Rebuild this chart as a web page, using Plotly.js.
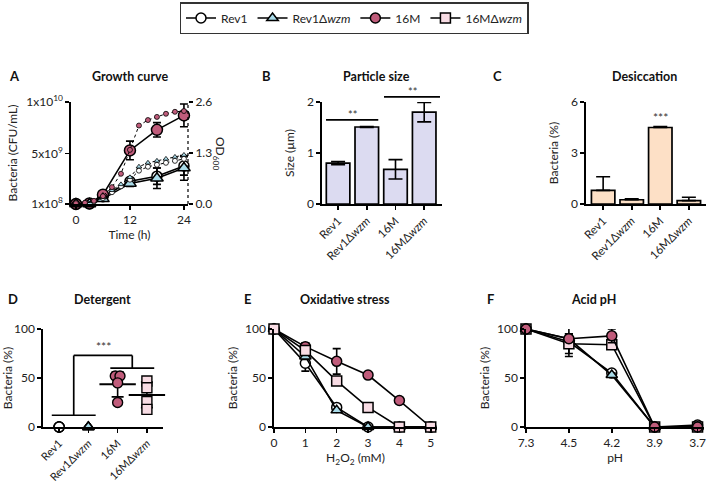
<!DOCTYPE html>
<html><head><meta charset="utf-8">
<script src="https://cdn.plot.ly/plotly-3.0.1.min.js"></script>
<style>html,body{margin:0;padding:0;background:#fff}#chart{width:708px;height:483px}</style>
</head><body><div id="chart"></div>
<script>
// ---------- DATA ----------
const strains = ['Rev1', 'Rev1Δ<i>wzm</i>', '16M', '16MΔ<i>wzm</i>'];

// A: growth curve (CFU, solid) and OD600 (dotted)
const growthTime = [0, 3, 6, 12, 18, 24];
const cfuRev1 = [1.0e8, 1.3e8, 0.8e9, 2.3e9, 2.8e9, 3.8e9];
const cfuRev1Err = [0, 0, 0.1e9, 0.3e9, 0.8e9, 0.9e9];
const cfuRev1D = [1.0e8, 1.0e8, 0.6e9, 2.1e9, 2.6e9, 3.6e9];
const cfuRev1DErr = [0, 0, 0.1e9, 0.3e9, 1.0e9, 1.2e9];
const cfu16M = [1.0e8, 1.5e8, 1.0e9, 5.3e9, 7.3e9, 8.7e9];
const cfu16MErr = [0, 0, 0.1e9, 0.9e9, 0.7e9, 1.1e9];
const odTime = [0, 2, 4, 6, 8, 10, 12, 14, 16, 18, 20, 22, 24];
const odRev1 = [0.02, 0.03, 0.06, 0.15, 0.30, 0.45, 0.62, 0.85, 0.95, 1.00, 1.05, 1.10, 1.15];
const odRev1D = [0.02, 0.03, 0.07, 0.17, 0.35, 0.50, 0.68, 0.95, 1.05, 1.10, 1.15, 1.20, 1.25];
const od16M = [0.02, 0.03, 0.08, 0.20, 0.43, 0.77, 1.38, 2.00, 2.14, 2.22, 2.30, 2.35, 2.37];
const cfuTicks = [1e8, 5e9, 1e10];
const cfuTickText = ['1x10<sup>8</sup>', '5x10<sup>9</sup>', '1x10<sup>10</sup>'];
const odTicks = [0, 1.3, 2.6];
const odTickText = ['0.0', '1.3', '2.6'];

// B: particle size
const sizeVals = [0.80, 1.51, 0.68, 1.80];
const sizeErr = [0.03, 0.01, 0.19, 0.19];
// B significance: [from, to, y, label]
const sizeSig = [[-0.42, 1.40, 1.65, '**'], [1.60, 3.55, 2.10, '**']];

// C: desiccation
const desVals = [0.80, 0.25, 4.50, 0.20];
const desErr = [0.80, 0.05, 0.06, 0.20];

// D: detergent (individual replicates)
const detRev1 = [0, 0, 0, 0];
const detRev1D = [0, 0, 0, 0];
const det16M = [52, 52, 45, 25];
const det16MD = [47, 40, 26, 18];

// E: oxidative stress
const h2o2 = [0, 1, 2, 3, 4, 5];
const oxRev1 = [100, 65, 20, 0, 0, 0];
const oxRev1Err = [0, 8, 1, 0, 0, 0];
const oxRev1D = [100, 72, 17, 0, 0, 0];
const oxRev1DErr = [0, 3, 1, 0, 0, 0];
const ox16M = [100, 82, 67, 53, 27, 0];
const ox16MErr = [0, 4, 13, 1, 3, 0];
const ox16MD = [100, 78, 47, 20, 0, 0];
const ox16MDErr = [0, 2, 2, 1, 0, 0];

// F: acid pH
const phLabels = ['7.3', '4.5', '4.2', '3.9', '3.7'];
const acidRev1 = [100, 87, 55, 0, 2];
const acidRev1Err = [0, 15, 2, 0, 3];
const acidRev1D = [100, 90, 53, 0, 0];
const acidRev1DErr = [0, 5, 2, 0, 0];
const acid16M = [100, 90, 93, 0, 0];
const acid16MErr = [0, 3, 7, 0, 0];
const acid16MD = [100, 85, 84, 0, 0];
const acid16MDErr = [0, 10, 3, 0, 0];

// ---------- STYLE ----------
const W = 708, H = 483;
const FONT = 'Lato, "Open Sans", "DejaVu Sans", sans-serif';
const C_MAUVE = '#c05c7b', C_BLUE = '#a9dbe9', C_PINK = '#f8dce4', C_WHITE = '#ffffff';
const BAR_B = '#dcdbf1', BAR_C = '#fde0c6';
const styles = [
  {sym: 'circle', col: C_WHITE},
  {sym: 'triangle-up', col: C_BLUE},
  {sym: 'circle', col: C_MAUVE},
  {sym: 'square', col: C_PINK}
];
const px = v => v / W, py = v => 1 - v / H;
const idx = strains.map((s, i) => i);

function errY(arr, minus) {
  const e = {type: 'data', array: arr, visible: true, color: '#000', thickness: 1.6, width: 4};
  if (minus) { e.symmetric = false; e.arrayminus = minus; }
  return e;
}
function lineTrace(x, y, err, si, xa, ya, opts) {
  opts = opts || {};
  return Object.assign({
    type: 'scatter', mode: 'lines+markers', x: x, y: y, xaxis: xa, yaxis: ya,
    cliponaxis: false, showlegend: false,
    line: {color: '#000', width: 1.6},
    marker: {symbol: styles[si].sym, color: styles[si].col, size: 10, line: {color: '#000', width: 1.5}},
    error_y: err ? errY(err) : undefined
  }, opts);
}

const traces = [];
// ---- A ----
[[odRev1, 0], [odRev1D, 1], [od16M, 2]].forEach(([d, si]) => {
  traces.push(lineTrace(odTime, d, null, si, 'x', 'y2', {
    line: {color: '#000', width: 1, dash: 'dot'},
    marker: {symbol: styles[si].sym, color: styles[si].col, size: 5, line: {color: '#000', width: 0.8}}
  }));
});
traces.push(lineTrace(growthTime, cfuRev1, cfuRev1Err, 0, 'x', 'y'));
traces.push(lineTrace(growthTime, cfu16M, cfu16MErr, 2, 'x', 'y', {marker: {symbol: 'circle', color: C_MAUVE, size: 11, line: {color: '#000', width: 1.5}}}));
traces.push(lineTrace(growthTime, cfuRev1D, cfuRev1DErr, 1, 'x', 'y', {marker: {symbol: 'triangle-up', color: C_BLUE, size: 11, line: {color: '#000', width: 1.5}}}));

// ---- B ----
traces.push({type: 'bar', x: idx, y: sizeVals, width: 0.82, xaxis: 'x2', yaxis: 'y3', showlegend: false,
  marker: {color: BAR_B, line: {color: '#000', width: 1.7}}, error_y: Object.assign(errY(sizeErr), {width: 7})});
// ---- C ----
traces.push({type: 'bar', x: idx, y: desVals, width: 0.82, xaxis: 'x3', yaxis: 'y4', showlegend: false,
  marker: {color: BAR_C, line: {color: '#000', width: 1.7}},
  error_y: Object.assign(errY(desErr, desVals.map(() => 0)), {width: 7})});

// ---- D ----
function dodge(vals, center, step) {
  return vals.map((v, i) => {
    const same = vals.map((w, j) => [w, j]).filter(p => p[0] === v);
    const k = same.findIndex(p => p[1] === i);
    const n = same.length;
    return n > 2 ? center : center + (k - (n - 1) / 2) * step;
  });
}
const mean = a => a.reduce((s, v) => s + v, 0) / a.length;
const sd = a => { const m = mean(a); return Math.sqrt(a.reduce((s, v) => s + (v - m) ** 2, 0) / (a.length - 1)); };
[detRev1, detRev1D, det16M, det16MD].forEach((d, i) => {
  if (i >= 2) {
    traces.push({type: 'scatter', mode: 'markers', x: [i], y: [mean(d)], xaxis: 'x4', yaxis: 'y5', showlegend: false,
      cliponaxis: false,
      marker: {symbol: 'line-ew', size: 26, line: {color: '#000', width: 2}},
      error_y: Object.assign(errY([sd(d)]), {width: 6})});
  }
  traces.push({type: 'scatter', mode: 'markers', x: dodge(d, i, 0.16), y: d, xaxis: 'x4', yaxis: 'y5',
    showlegend: false, cliponaxis: false,
    marker: {symbol: styles[i].sym, color: styles[i].col, size: 10, line: {color: '#000', width: 1.4}}});
});

// ---- E (also drives legend) ----
const oxSets = [[oxRev1, oxRev1Err], [oxRev1D, oxRev1DErr], [ox16M, ox16MErr], [ox16MD, ox16MDErr]];
oxSets.forEach(([d, e], i) => {
  traces.push(lineTrace(h2o2, d, e, i, 'x5', 'y6', {name: strains[i], showlegend: true}));
});
// ---- F ----
const acidSets = [[acidRev1, acidRev1Err], [acidRev1D, acidRev1DErr], [acid16MD, acid16MDErr], [acid16M, acid16MErr]];
const acidStyle = [0, 1, 3, 2];
acidSets.forEach(([d, e], k) => {
  traces.push(lineTrace(phLabels.map((p, j) => j), d, e, acidStyle[k], 'x6', 'y7'));
});

// ---------- LAYOUT ----------
const axBase = {showline: true, linecolor: '#000', linewidth: 1.7, ticks: 'outside', ticklen: 4, tickwidth: 1.6,
  tickcolor: '#000', showgrid: false, zeroline: false, automargin: false, fixedrange: true,
  tickfont: {family: FONT, size: 12, color: '#222'}};
const ax = o => Object.assign({}, axBase, o);
const titleFont = {family: FONT, size: 12, color: '#222'};
const smallTick = {family: FONT, size: 11.5, color: '#222'};
const topRow = [py(204), py(102)], botRow = [py(427), py(329)];

const layout = {
  width: W, height: H, margin: {l: 0, r: 0, t: 0, b: 0},
  paper_bgcolor: '#fff', plot_bgcolor: 'rgba(0,0,0,0)',
  font: {family: FONT, size: 12, color: '#222'},
  showlegend: true,
  legend: {orientation: 'h', x: 0.5, xanchor: 'center', y: py(2), yanchor: 'top',
    bordercolor: '#333', borderwidth: 1.5, font: {family: FONT, size: 12, color: '#222'},
    itemwidth: 30, tracegroupgap: 0},
  // A
  xaxis: ax({domain: [px(71), px(188)], range: [-1.1, 24.9], tickvals: [0, 12, 24], anchor: 'y',
    title: {text: 'Time (h)', font: titleFont, standoff: 3}}),
  yaxis: ax({domain: topRow, range: [1e8, 1e10], tickvals: cfuTicks, ticktext: cfuTickText, anchor: 'x',
    title: {text: 'Bacteria (CFU/mL)', font: titleFont, standoff: 6}}),
  yaxis2: ax({domain: topRow, overlaying: 'y', side: 'right', anchor: 'x', range: [0, 2.6], tickvals: odTicks,
    ticktext: odTickText, showline: false}),
  // B
  xaxis2: ax({domain: [px(322), px(442)], range: [-0.56, 3.62], anchor: 'y3', tickvals: idx, ticktext: strains, tickangle: -45, tickfont: smallTick}),
  yaxis3: ax({domain: topRow, range: [0, 2], tickvals: [0, 1, 2], anchor: 'x2',
    title: {text: 'Size (µm)', font: titleFont, standoff: 10}}),
  // C
  xaxis3: ax({domain: [px(586), px(706)], range: [-0.6, 3.6], anchor: 'y4', tickvals: idx, ticktext: strains, tickangle: -45, tickfont: smallTick}),
  yaxis4: ax({domain: topRow, range: [0, 6], tickvals: [0, 3, 6], anchor: 'x3',
    title: {text: 'Bacteria (%)', font: titleFont, standoff: 10}}),
  // D
  xaxis4: ax({domain: [px(43), px(163)], range: [-0.55, 3.55], anchor: 'y5', tickvals: idx, ticktext: strains, tickangle: -45, tickfont: {family: FONT, size: 11, color: '#222'}}),
  yaxis5: ax({domain: botRow, range: [0, 100], tickvals: [0, 50, 100], anchor: 'x4',
    title: {text: 'Bacteria (%)', font: titleFont, standoff: 5}}),
  // E
  xaxis5: ax({domain: [px(274), px(437)], range: [0, 5.2], anchor: 'y6', tickvals: h2o2,
    title: {text: 'H<sub>2</sub>O<sub>2</sub> (mM)', font: titleFont, standoff: 3}}),
  yaxis6: ax({domain: botRow, range: [0, 100], tickvals: [0, 50, 100], anchor: 'x5',
    title: {text: 'Bacteria (%)', font: titleFont, standoff: 5}}),
  // F
  xaxis6: ax({domain: [px(526), px(704)], range: [0, 4.15], anchor: 'y7', tickvals: phLabels.map((p, j) => j), ticktext: phLabels,
    title: {text: 'pH', font: titleFont, standoff: 3}}),
  yaxis7: ax({domain: botRow, range: [0, 100], tickvals: [0, 50, 100], anchor: 'x6',
    title: {text: 'Bacteria (%)', font: titleFont, standoff: 5}}),
  shapes: [],
  annotations: []
};

// right dotted OD axis line in A
layout.shapes.push({type: 'line', xref: 'x domain', yref: 'y domain', x0: 1, x1: 1, y0: 0, y1: 1,
  line: {color: '#000', width: 1.2, dash: 'dot'}});
// B significance lines
sizeSig.forEach(([a, b, y, lab]) => {
  layout.shapes.push({type: 'line', xref: 'x2', yref: 'y3 domain', x0: a, x1: b, y0: y / 2, y1: y / 2,
    line: {color: '#000', width: 1.7}});
  layout.annotations.push({xref: 'x2', yref: 'y3 domain', x: (a + b) / 2, y: y / 2, yanchor: 'bottom', yshift: -3,
    text: lab, showarrow: false, font: {family: FONT, size: 11, color: '#333'}});
});
// C significance
layout.annotations.push({xref: 'x3', yref: 'y4', x: 2, y: desVals[2] + desErr[2], yanchor: 'bottom', yshift: -1,
  text: '***', showarrow: false, font: {family: FONT, size: 12, color: '#333'}});
// D bracket
const dBr = [[-0.25, 12, 1.25, 12], [0.5, 12, 0.5, 73], [0.5, 73, 2.5, 73], [2.5, 73, 2.5, 60], [1.75, 60, 3.25, 60]];
dBr.forEach(([x0, y0, x1, y1]) => layout.shapes.push({type: 'line', xref: 'x4', yref: 'y5', x0, y0, x1, y1,
  line: {color: '#000', width: 1.7}}));
layout.annotations.push({xref: 'x4', yref: 'y5', x: 1.5, y: 73, yanchor: 'bottom', yshift: -1, text: '***', showarrow: false,
  font: {family: FONT, size: 12, color: '#333'}});

// panel titles & letters
const panelTitles = [
  ['A', 7, 'Growth curve', 130, 76], ['B', 260, 'Particle size', 377, 76], ['C', 491, 'Desiccation', 644, 76],
  ['D', 6, 'Detergent', 102, 299], ['E', 242, 'Oxidative stress', 345, 299], ['F', 485, 'Acid pH', 593, 299]
];
panelTitles.forEach(([L, lx, T, tx, y]) => {
  layout.annotations.push({xref: 'paper', yref: 'paper', x: px(lx), y: py(y), xanchor: 'left', yanchor: 'middle',
    text: '<b>' + L + '</b>', showarrow: false, font: {family: FONT, size: 13, color: '#111'}});
  layout.annotations.push({xref: 'paper', yref: 'paper', x: px(tx), y: py(y), xanchor: 'center', yanchor: 'middle',
    text: '<b>' + T + '</b>', showarrow: false, font: {family: FONT, size: 12.5, color: '#111'}});
});
// OD600 label
layout.annotations.push({xref: 'paper', yref: 'paper', x: px(220), y: py(153), xanchor: 'center', yanchor: 'middle',
  text: 'OD<sub>600</sub>', textangle: 90, showarrow: false, font: titleFont});

Plotly.newPlot('chart', traces, layout, {displayModeBar: false, staticPlot: true});
</script>
</body></html>
